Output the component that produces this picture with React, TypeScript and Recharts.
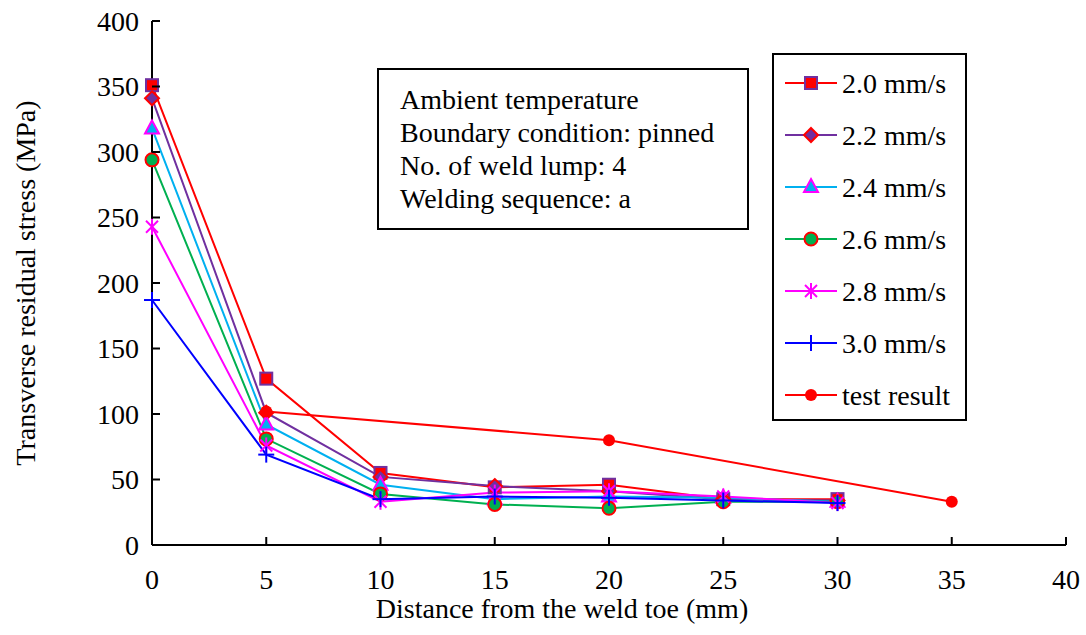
import { LineChart, Line, XAxis, YAxis, Label } from "recharts";

// distance from the weld toe (mm)
const distance = [0, 5, 10, 15, 20, 25, 30, 35];

// transverse residual stress (MPa) for each welding speed
const speed20 = [351, 127, 55, 44, 46, 35, 35, null];
const speed22 = [341, 101, 52, 45, 41, 35, 34, null];
const speed24 = [318, 92, 46, 35, 37, 36, 33, null];
const speed26 = [294, 81, 39, 31, 28, 33, 33, null];
const speed28 = [243, 76, 33, 40, 41, 37, 32, null];
const speed30 = [187, 69, 35, 37, 36, 34, 32, null];
const testResult = [null, 102, null, null, 80, null, null, 33];

const xTicks = [0, 5, 10, 15, 20, 25, 30, 35, 40];
const yTicks = [0, 50, 100, 150, 200, 250, 300, 350, 400];

const noteLines = [
  "Ambient temperature",
  "Boundary condition: pinned",
  "No. of weld lump: 4",
  "Welding sequence: a",
];

const FONT = '"Liberation Serif", "Times New Roman", Times, serif';
const textStyle = { fontFamily: FONT, fontSize: 28 };

type MarkerKind = "square" | "diamond" | "triangle" | "circle" | "star" | "plus" | "dot";

const series: { key: string; name: string; line: string; kind: MarkerKind; fill: string; edge: string }[] = [
  { key: "s20", name: "2.0 mm/s", line: "#FF0000", kind: "square", fill: "#FF0000", edge: "#7030A0" },
  { key: "s22", name: "2.2 mm/s", line: "#7030A0", kind: "diamond", fill: "#7030A0", edge: "#FF0000" },
  { key: "s24", name: "2.4 mm/s", line: "#00B0F0", kind: "triangle", fill: "#00B0F0", edge: "#FF00FF" },
  { key: "s26", name: "2.6 mm/s", line: "#00B050", kind: "circle", fill: "#00B050", edge: "#FF0000" },
  { key: "s28", name: "2.8 mm/s", line: "#FF00FF", kind: "star", fill: "none", edge: "#FF00FF" },
  { key: "s30", name: "3.0 mm/s", line: "#0000FF", kind: "plus", fill: "none", edge: "#0000FF" },
  { key: "test", name: "test result", line: "#FF0000", kind: "dot", fill: "#FF0000", edge: "none" },
];

const rows = distance.map((d, i) => ({
  d,
  s20: speed20[i],
  s22: speed22[i],
  s24: speed24[i],
  s26: speed26[i],
  s28: speed28[i],
  s30: speed30[i],
  test: testResult[i],
}));

function Marker({ kind, cx, cy, fill, edge }: { kind: MarkerKind; cx: number; cy: number; fill: string; edge: string }) {
  switch (kind) {
    case "square":
      return <rect x={cx - 6} y={cy - 6} width={12} height={12} fill={fill} stroke={edge} strokeWidth={2} />;
    case "diamond":
      return (
        <polygon
          points={`${cx},${cy - 7} ${cx + 7},${cy} ${cx},${cy + 7} ${cx - 7},${cy}`}
          fill={fill}
          stroke={edge}
          strokeWidth={2}
        />
      );
    case "triangle":
      return (
        <polygon
          points={`${cx},${cy - 8} ${cx + 7},${cy + 5} ${cx - 7},${cy + 5}`}
          fill={fill}
          stroke={edge}
          strokeWidth={2}
        />
      );
    case "circle":
      return <circle cx={cx} cy={cy} r={6.5} fill={fill} stroke={edge} strokeWidth={2} />;
    case "star":
      return (
        <g stroke={edge} strokeWidth={2}>
          <line x1={cx - 6} y1={cy - 6} x2={cx + 6} y2={cy + 6} />
          <line x1={cx - 6} y1={cy + 6} x2={cx + 6} y2={cy - 6} />
          <line x1={cx} y1={cy - 8} x2={cx} y2={cy + 8} />
        </g>
      );
    case "plus":
      return (
        <g stroke={edge} strokeWidth={2}>
          <line x1={cx - 8} y1={cy} x2={cx + 8} y2={cy} />
          <line x1={cx} y1={cy - 8} x2={cx} y2={cy + 8} />
        </g>
      );
    default:
      return <circle cx={cx} cy={cy} r={6} fill={fill} />;
  }
}

function YTick({ x, y, payload }: any) {
  return (
    <g>
      <line x1={x} y1={y} x2={x + 8} y2={y} stroke="#000" strokeWidth={2} />
      <text x={x - 13} y={y} dy="0.34em" textAnchor="end" style={textStyle} fill="#000">
        {payload.value}
      </text>
    </g>
  );
}

function XTick({ x, y, payload }: any) {
  return (
    <g>
      <line x1={x} y1={y} x2={x} y2={y - 8} stroke="#000" strokeWidth={2} />
      <text x={x} y={y + 44} textAnchor="middle" style={textStyle} fill="#000">
        {payload.value}
      </text>
    </g>
  );
}

export default function App() {
  return (
    <div style={{ position: "absolute", left: 0, top: 0, width: 1086, height: 635, background: "#fff", fontFamily: FONT }}>
      <LineChart width={1086} height={635} data={rows} margin={{ top: 21, right: 20, bottom: 0, left: 0 }}>
        <XAxis
          dataKey="d"
          type="number"
          domain={[0, 40]}
          ticks={xTicks}
          height={90}
          tickSize={0}
          tickMargin={0}
          tick={<XTick />}
          axisLine={{ stroke: "#000", strokeWidth: 2 }}
          tickLine={false}
          interval={0}
        >
          <Label
            content={({ viewBox }: any) => (
              <text
                x={viewBox.x + viewBox.width / 2 - 47}
                y={viewBox.y + 73}
                textAnchor="middle"
                style={textStyle}
                fill="#000"
              >
                Distance from the weld toe (mm)
              </text>
            )}
          />
        </XAxis>
        <YAxis
          type="number"
          domain={[0, 400]}
          ticks={yTicks}
          width={152}
          tickSize={0}
          tickMargin={0}
          tick={<YTick />}
          axisLine={{ stroke: "#000", strokeWidth: 2 }}
          tickLine={false}
          interval={0}
        >
          <Label
            content={({ viewBox }: any) => {
              const cx = viewBox.x + 25;
              const cy = viewBox.y + viewBox.height / 2;
              return (
                <text
                  x={cx}
                  y={cy}
                  transform={`rotate(-90 ${cx} ${cy})`}
                  textAnchor="middle"
                  dominantBaseline="central"
                  style={textStyle}
                  fill="#000"
                >
                  Transverse residual stress (MPa)
                </text>
              );
            }}
          />
        </YAxis>
        {series.map((s) => (
          <Line
            key={s.key}
            dataKey={s.key}
            name={s.name}
            type="linear"
            stroke={s.line}
            strokeWidth={2}
            connectNulls
            isAnimationActive={false}
            activeDot={false}
            dot={(p: any) =>
              p.cx == null || p.cy == null || p.value == null ? (
                <g key={`${s.key}-${p.index}`} />
              ) : (
                <g key={`${s.key}-${p.index}`}>
                  <Marker kind={s.kind} cx={p.cx} cy={p.cy} fill={s.fill} edge={s.edge} />
                </g>
              )
            }
          />
        ))}
      </LineChart>

      {/* annotation box with the simulation conditions */}
      <svg style={{ position: "absolute", left: 377, top: 68 }} width={373} height={163}>
        <rect x={1} y={1} width={370} height={160} fill="#fff" stroke="#000" strokeWidth={2} />
        {noteLines.map((t, i) => (
          <text key={t} x={23} y={41 + i * 33} style={textStyle} fill="#000">
            {t}
          </text>
        ))}
      </svg>

      {/* legend */}
      <svg style={{ position: "absolute", left: 772, top: 53 }} width={196} height={369}>
        <rect x={1} y={1} width={193} height={366} fill="#fff" stroke="#000" strokeWidth={2} />
        {series.map((s, i) => {
          const cy = 30 + i * 52;
          return (
            <g key={s.key}>
              <line x1={13} y1={cy} x2={65} y2={cy} stroke={s.line} strokeWidth={2} />
              <Marker kind={s.kind} cx={39} cy={cy} fill={s.fill} edge={s.edge} />
              <text x={70} y={cy} dy="0.34em" style={textStyle} fill="#000">
                {s.name}
              </text>
            </g>
          );
        })}
      </svg>
    </div>
  );
}
